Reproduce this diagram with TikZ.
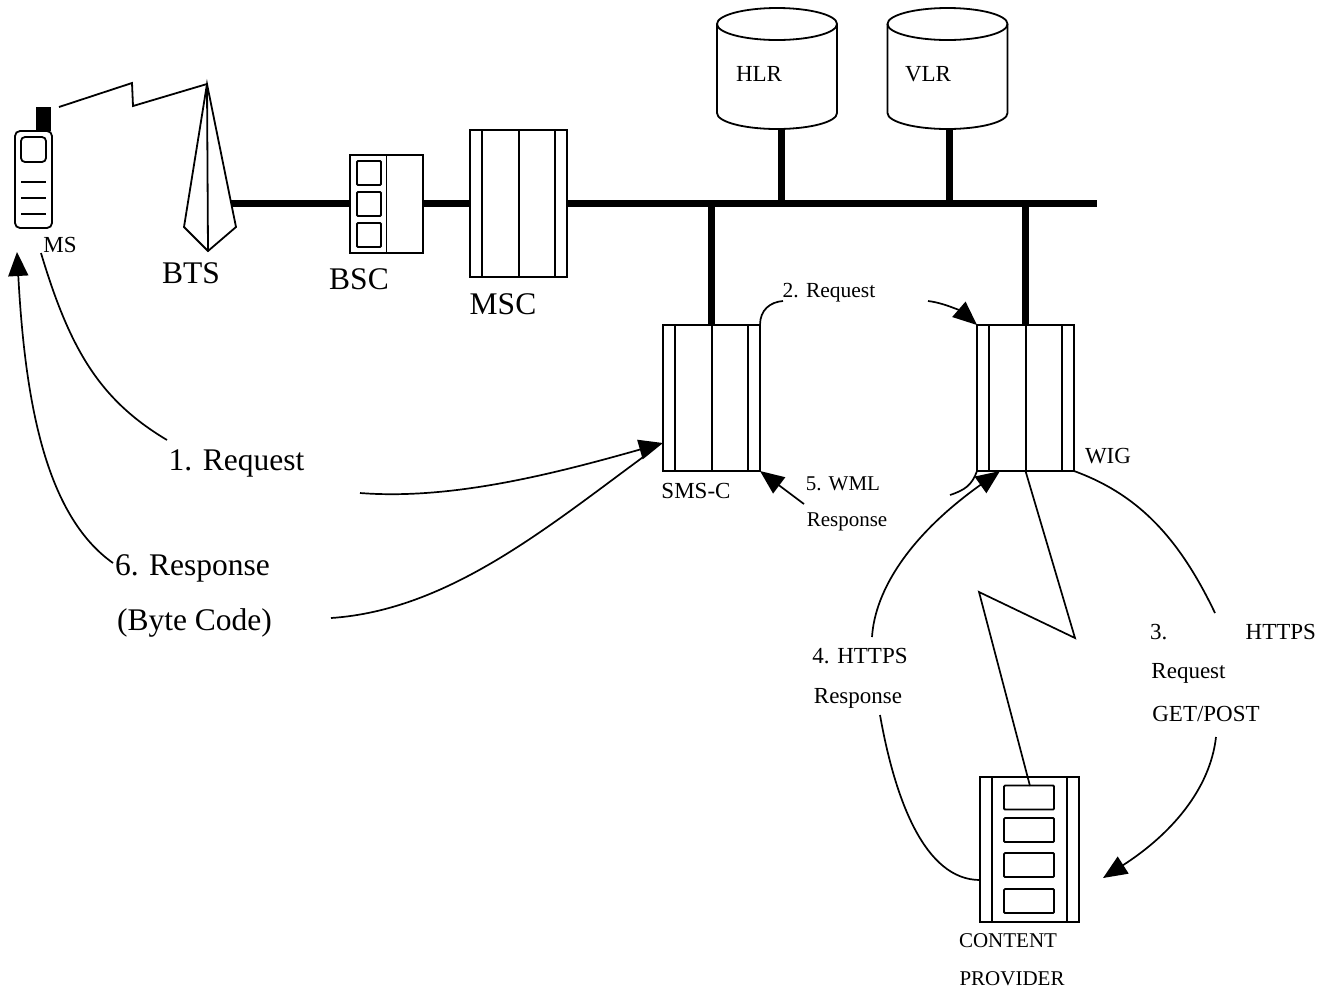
\documentclass[tikz,border=0pt]{standalone}
\usepackage{fontspec}
\setmainfont{Liberation Serif}
\usetikzlibrary{arrows.meta, positioning, calc}

\begin{document}
\begin{tikzpicture}[
  x=1pt, y=-1pt,
  line width=1.8pt,
  biglabel/.style={inner sep=0pt, font=\fontsize{31.5}{36}\selectfont},
  smalllabel/.style={inner sep=0pt, font=\fontsize{23}{28}\selectfont},
  tinylabel/.style={inner sep=0pt, font=\fontsize{21}{26}\selectfont},
  rack/.style={draw, inner sep=0pt, outer sep=0pt, minimum width=97pt, minimum height=146pt},
  slot/.style={draw, inner sep=0pt, outer sep=0pt, rounded corners=1pt},
  dbase/.style={inner sep=0pt, outer sep=0pt, minimum width=120pt, minimum height=121pt},
  bus/.style={line width=7pt},
  curve/.style={line width=1.7pt},
  arrow/.style={curve, -{Stealth[length=24pt, width=20pt, inset=0pt]}}
]
  \useasboundingbox (0,0) rectangle (1329,989);

  % handset
  \node[draw, rounded corners=5pt, minimum width=37pt, minimum height=97pt, inner sep=0pt, outer sep=0pt] (ms) at (33.5,179.5) {};
  \node[slot, rounded corners=4pt, minimum width=25pt, minimum height=25pt] (screen) at (33.5,149.5) {};
  \foreach \y in {182,198,214} \draw (21,\y) -- (46,\y);
  \node[fill, inner sep=0pt, outer sep=0pt, minimum width=15pt, minimum height=24pt] (aerial) at (43.5,119) {};
  \node[smalllabel] (mstext) at (60,245) {MS};

  % mast
  \coordinate (mast) at (207,84);
  \coordinate (mastleft) at (184,227);
  \coordinate (mastfoot) at (208,251);
  \coordinate (mastright) at (236,227);
  \coordinate (busstart) at (231,203);
  \coordinate (busend) at (1097,203);
  \draw (mast) -- (mastleft) -- (mastfoot) -- (mastright) -- cycle;
  \draw (mast) -- (mastfoot);
  \node[biglabel] (btstext) at (191,273) {BTS};
  \coordinate (radio) at (59,107);
  \draw (radio) -- (132,83) -- (133,106) -- (mast);

  % controller
  \node[draw, inner sep=0pt, outer sep=0pt, minimum width=73pt, minimum height=98pt] (bsc) at (386.5,204) {};
  \draw (bsc.north) -- (bsc.south);
  \foreach \y in {173,204,235}
    \node[slot, minimum width=24pt, minimum height=24pt] at (369,\y) {};
  \node[biglabel] (bsctext) at (359,279) {BSC};

  % racks
  \node[rack, minimum height=147pt] (msc) at (518.5,203.5) {};
  \node[rack] (smsc) at (711.5,398) {};
  \node[rack] (wig) at (1025.5,398) {};
  \node[rack, minimum width=99pt, minimum height=145pt] (cp) at (1029.5,849.5) {};
  \foreach \r in {msc,smsc,wig} {
    \foreach \f in {0.125,0.505,0.875}
      \draw ($(\r.north west)!\f!(\r.north east)$) -- ($(\r.south west)!\f!(\r.south east)$);
  }
  \foreach \f in {0.125,0.875}
    \draw ($(cp.north west)!\f!(cp.north east)$) -- ($(cp.south west)!\f!(cp.south east)$);
  \foreach \y in {797.5,830,865,901}
    \node[slot, minimum width=50pt, minimum height=24pt] at (1029,\y) {};
  \node[biglabel] (msctext) at (503,304) {MSC};
  \node[smalllabel] (smsctext) at (696,491) {SMS-C};
  \node[smalllabel] (wigtext) at (1108,456) {WIG};
  \node[tinylabel] (cptext) at (1008,941) {CONTENT};
  \node[tinylabel] (cptext2) at (1012,979) {PROVIDER};

  % databases
  \node[dbase] (hlr) at (777,68.5) {};
  \node[dbase] (vlr) at (947.5,68.5) {};
  \foreach \d in {hlr,vlr} {
    \draw (\d.north) ++(0,16) ellipse [x radius=60pt, y radius=16pt];
    \draw (\d.north west) ++(0,16) -- ($(\d.south west)+(0,-16)$)
      arc [start angle=180, end angle=360, x radius=60pt, y radius=16pt]
      -- ($(\d.north east)+(0,16)$);
  }
  \node[smalllabel] (hlrtext) at (759,74) {HLR};
  \node[smalllabel] (vlrtext) at (928,74) {VLR};

  % signalling bus
  \draw[bus] (busstart) -- (busstart -| bsc.west);
  \draw[bus] (bsc.east |- busend) -- (msc.west |- busend);
  \draw[bus] (msc.east |- busend) -- (busend);
  \draw[bus] (781,129) -- (781,203);
  \draw[bus] (949,129) -- (949,203);
  \draw[bus] (smsc.north |- busend) -- (smsc.north);
  \draw[bus] (wig.north |- busend) -- (wig.north);

  % step labels
  \node[biglabel] (step1) at (236.5,463) {1. Request};
  \node[biglabel] (step6) at (192.5,568) {6. Response};
  \node[biglabel] (step6b) at (194.5,623) {(Byte Code)};
  \node[smalllabel, font=\fontsize{21.5}{26}\selectfont] (step2) at (829,293) {2. Request};
  \node[tinylabel] (step5) at (843,484) {5. WML};
  \node[tinylabel] (step5b) at (847,522) {Response};
  \node[smalllabel, text width=166pt] (step3) at (1233,632) {3.\hfill HTTPS};
  \node[smalllabel] (step3b) at (1188.5,673) {Request};
  \node[smalllabel] (step3c) at (1206,714) {GET/POST};
  \node[smalllabel] (step4) at (860,656) {4. HTTPS};
  \node[smalllabel] (step4b) at (858,698) {Response};

  % free ends
  \coordinate (msout) at (41,253);
  \coordinate (msin) at (17,252);
  \coordinate (oneend) at (167,440);
  \coordinate (onestart) at (360,493);
  \coordinate (sixstart) at (113,563);
  \coordinate (sixend) at (331,618);
  \coordinate (smscin) at (663,443);
  \coordinate (smscjoin) at (650,452);
  \coordinate (twoend) at (783,301);
  \coordinate (twostart) at (928,301);
  \coordinate (fivestart) at (804,504);
  \coordinate (fiveend) at (950,495);
  \coordinate (fourtop) at (872,637);
  \coordinate (fourin) at (1000,471);
  \coordinate (fourlow) at (880,715);
  \coordinate (threetop) at (1215,613);
  \coordinate (threelow) at (1216,737);
  \coordinate (cpin) at (1103,878);
  \coordinate (cpout) at (cp.west |- 0,880);

  \draw[curve] (msout) .. controls (70,350) and (100,400) .. (oneend);
  \draw[arrow] (onestart) .. controls (450,500) and (550,475) .. (smscin);
  \draw[arrow] (sixstart) .. controls (45,515) and (25,400) .. (msin);
  \draw[curve] (sixend) .. controls (450,610) and (550,525) .. (smscjoin);
  \draw[curve] (smsc.north east) .. controls (760,310) and (770,302) .. (twoend);
  \draw[arrow] (twostart) .. controls (945,303) and (962,312) .. (wig.north west);
  \draw[arrow] (fivestart) -- (smsc.south east);
  \draw[curve] (wig.south west) .. controls (972,485) and (965,490) .. (fiveend);
  \draw[arrow] (fourtop) .. controls (875,590) and (910,535) .. (fourin);
  \draw[curve] (fourlow) .. controls (895,800) and (925,880) .. (cpout);
  \draw[curve] (wig.south east) .. controls (1140,495) and (1180,540) .. (threetop);
  \draw[arrow] (threelow) .. controls (1210,790) and (1170,835) .. (cpin);
  \draw[curve] (wig.south) -- (1075,638) -- (979,592) -- (1030,786);
\end{tikzpicture}
\end{document}
